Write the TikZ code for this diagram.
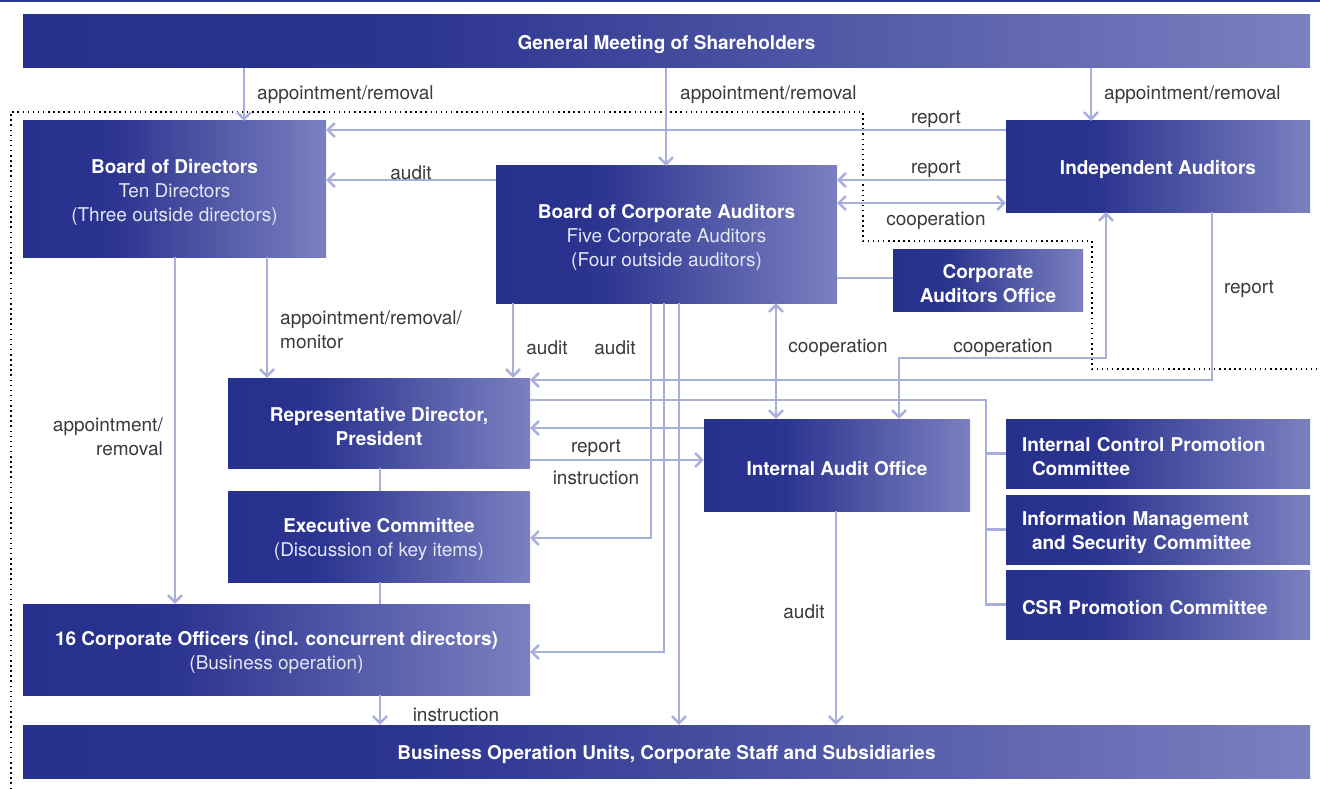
\documentclass[tikz,border=0pt]{standalone}
\usepackage{fontspec}
\setmainfont{TeX Gyre Heros}
\usetikzlibrary{arrows.meta}
\definecolor{bdark}{HTML}{25318C}
\definecolor{bmid}{HTML}{2B3490}
\definecolor{blight}{HTML}{7B80C0}
\definecolor{conncol}{HTML}{A8AFDB}
\definecolor{labgray}{HTML}{3A3A3A}
\definecolor{subtxt}{HTML}{E4E6F4}
\definecolor{topline}{HTML}{2B3990}
\pgfdeclarehorizontalshading{boxgrad}{100bp}{color(0bp)=(bdark); color(25bp)=(bdark); color(40bp)=(bmid); color(75bp)=(blight); color(100bp)=(blight)}
\newcommand\boxstrut{\rule{0pt}{20.7pt}}
\begin{document}
\begin{tikzpicture}[x=1pt,y=-1pt,
  box/.style={shade, shading=boxgrad, inner sep=0pt, text=white, align=center,
    font=\fontsize{19}{24}\selectfont},
  combox/.style={box, align=left, inner xsep=16pt, text width=272pt,
    minimum height=69pt},
  conn/.style={draw=conncol, line width=2.5pt},
  arr/.style={-{Straight Barb[length=7pt,width=14pt]}},
  arrs/.style={{Straight Barb[length=7pt,width=14pt]}-{Straight Barb[length=7pt,width=14pt]}},
  lab/.style={font=\fontsize{19}{24}\selectfont, text=labgray, inner sep=0pt, yshift=-2.5pt},
  dotline/.style={draw=black, line width=1.5pt, dash pattern=on 1.5pt off 3.6pt}]
\useasboundingbox (0,0) rectangle (1320,789);
\fill[white] (0,0) rectangle (1320,789);
\draw[topline, line width=1.6pt] (0,0.8) -- (1320,0.8);
% dotted boundary
\draw[dotline] (11,789) -- (11,112) -- (863,112) -- (863,241) -- (1092,241) -- (1092,369) -- (1320,369);

% boxes
\node[box, minimum width=1287pt, minimum height=53pt] (gm) at (666.5,41.5) {\boxstrut\textbf{General Meeting of Shareholders}};
\node[box, minimum width=303pt, minimum height=136pt] (bod) at (174.5,189) {\boxstrut\textbf{Board of Directors}\\{\color{subtxt}Ten Directors}\\{\color{subtxt}(Three outside directors)}};
\node[box, minimum width=341pt, minimum height=137pt] (bca) at (666.5,234.5) {\boxstrut\textbf{Board of Corporate Auditors}\\{\color{subtxt}Five Corporate Auditors}\\{\color{subtxt}(Four outside auditors)}};
\node[box, minimum width=304pt, minimum height=91pt] (ia) at (1158,166.5) {\boxstrut\textbf{Independent Auditors}};
\node[box, minimum width=190pt, minimum height=62pt] (cao) at (988,280) {\boxstrut\textbf{Corporate}\\\textbf{Auditors Office}};
\node[box, minimum width=302pt, minimum height=90pt] (rdp) at (379,423) {\boxstrut\textbf{Representative Director,}\\\textbf{President}};
\node[box, minimum width=302pt, minimum height=91pt] (ec) at (379,536.5) {\boxstrut\textbf{Executive Committee}\\{\color{subtxt}(Discussion of key items)}};
\node[box, minimum width=507pt, minimum height=91pt] (co) at (276.5,649.5) {\boxstrut\textbf{16 Corporate Officers (incl. concurrent directors)}\\{\color{subtxt}(Business operation)}};
\node[box, minimum width=266pt, minimum height=92pt] (iao) at (837,465) {\boxstrut\textbf{Internal Audit Office}};
\node[combox] (icp) at (1158,453.5) {\boxstrut\textbf{Internal Control Promotion}\\\hspace*{10pt}\textbf{Committee}};
\node[combox] (ims) at (1158,529.5) {\boxstrut\textbf{Information Management}\\\hspace*{10pt}\textbf{and Security Committee}};
\node[combox] (csr) at (1158,604.5) {\boxstrut\textbf{CSR Promotion Committee}};
\node[box, minimum width=1287pt, minimum height=53pt] (bou) at (666.5,751.5) {\boxstrut\textbf{Business Operation Units, Corporate Staff and Subsidiaries}};

% helper coordinates
\foreach \v in {175,244,267,380,513,651,664,666,679,776,836,899,986,1091,1106,1212}{\coordinate (X\v) at (\v,0);}
\foreach \v in {130,180,203,278,358,380,400,428,460,538,652}{\coordinate (Y\v) at (0,\v);}

% connectors
\draw[conn,arr] (X244 |- gm.south) -- (X244 |- bod.north);
\draw[conn,arr] (X666 |- gm.south) -- (X666 |- bca.north);
\draw[conn,arr] (X1091 |- gm.south) -- (X1091 |- ia.north);
\draw[conn,arr] (ia.west |- Y130) -- (bod.east |- Y130);
\draw[conn,arr] (ia.west |- Y180) -- (bca.east |- Y180);
\draw[conn,arrs] (bca.east |- Y203) -- (ia.west |- Y203);
\draw[conn,arr] (bca.west |- Y180) -- (bod.east |- Y180);
\draw[conn] (bca.east |- Y278) -- (cao.west |- Y278);
\draw[conn,arr] (X267 |- bod.south) -- (X267 |- rdp.north);
\draw[conn,arr] (X175 |- bod.south) -- (X175 |- co.north);
\draw[conn,arr] (X513 |- bca.south) -- (X513 |- rdp.north);
\draw[conn,arr] (X651 |- bca.south) |- (ec.east |- Y538);
\draw[conn,arr] (X664 |- bca.south) |- (co.east |- Y652);
\draw[conn,arr] (X679 |- bca.south) -- (X679 |- bou.north);
\draw[conn,arrs] (X776 |- bca.south) -- (X776 |- iao.north);
\draw[conn,arrs] (X899 |- iao.north) |- (X1106 |- Y358) -- (X1106 |- ia.south);
\draw[conn,arr] (X1212 |- ia.south) |- (rdp.east |- Y380);
\draw[conn] (rdp.east |- Y400) -| (X986 |- csr.west) -- (csr.west);
\draw[conn] (X986 |- icp.west) -- (icp.west);
\draw[conn] (X986 |- ims.west) -- (ims.west);
\draw[conn,arr] (iao.west |- Y428) -- (rdp.east |- Y428);
\draw[conn,arr] (rdp.east |- Y460) -- (iao.west |- Y460);
\draw[conn,arr] (X836 |- iao.south) -- (X836 |- bou.north);
\draw[conn] (X380 |- rdp.south) -- (X380 |- ec.north);
\draw[conn] (X380 |- ec.south) -- (X380 |- co.north);
\draw[conn,arr] (X380 |- co.south) -- (X380 |- bou.north);

% labels
\node[lab, anchor=west] (l1) at (257,92) {appointment/removal};
\node[lab, anchor=west] (l2) at (680,92) {appointment/removal};
\node[lab, anchor=west] (l3) at (1104,92) {appointment/removal};
\node[lab] (l4) at (936,117) {report};
\node[lab] (l5) at (936,167) {report};
\node[lab] (l6) at (936,218) {cooperation};
\node[lab] (l7) at (411,170) {audit};
\node[lab, anchor=west, align=left] (l8) at (280,327) {appointment/removal/\\monitor};
\node[lab, anchor=east, align=right] (l9) at (163,434) {appointment/\\removal};
\node[lab] (l10) at (547,345) {audit};
\node[lab] (l11) at (615,345) {audit};
\node[lab] (l12) at (838,345) {cooperation};
\node[lab] (l13) at (1003,345) {cooperation};
\node[lab] (l14) at (1249,287) {report};
\node[lab] (l15) at (596,446) {report};
\node[lab] (l16) at (596,475) {instruction};
\node[lab] (l17) at (804,609) {audit};
\node[lab] (l18) at (456,712) {instruction};
\end{tikzpicture}
\end{document}
